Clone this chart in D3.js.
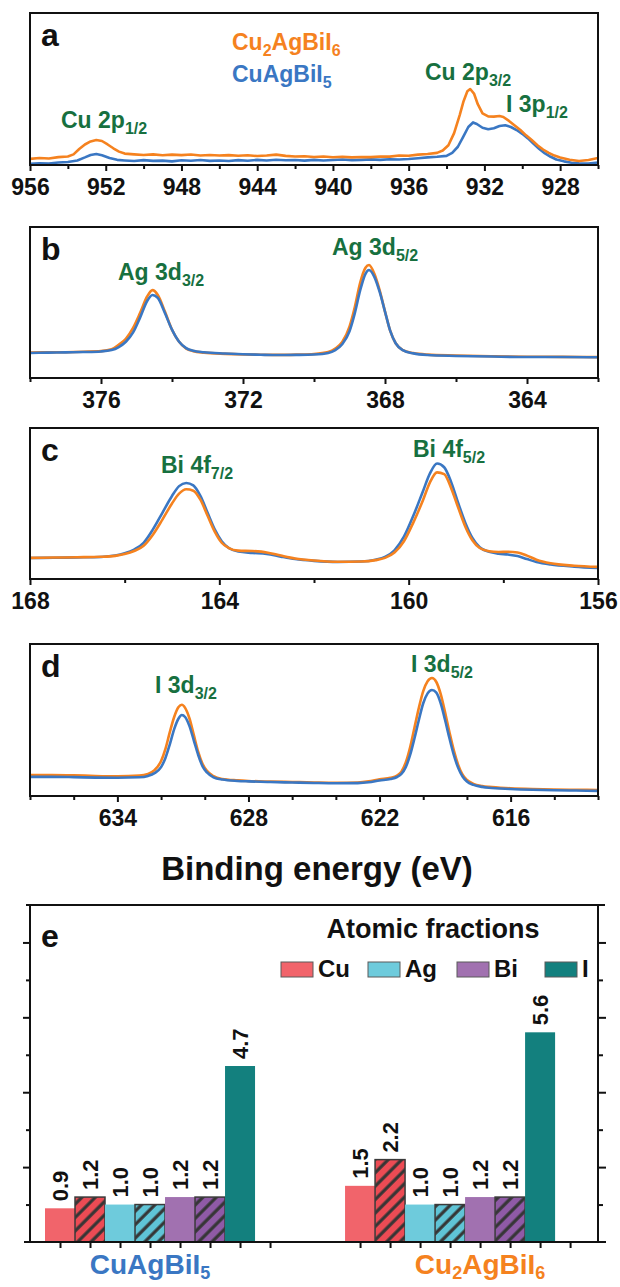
<!DOCTYPE html>
<html>
<head>
<meta charset="utf-8">
<script src="https://cdn.jsdelivr.net/npm/d3@7"></script>
<style>
  body { margin: 0; background: #fff; }
  svg { display: block; font-family: "Liberation Sans", Arial, sans-serif; font-weight: bold; }
</style>
</head>
<body>
<div id="chart"></div>
<script>
// ---- XPS spectra, [binding energy (eV), intensity (a.u., 0-100 of panel height)] ----
const cu2pCu2AgBiI6 = [[956,4.0],[955.5,4.6],[955,4.3],[954.5,5.2],[954,5.6],[953.7,7.0],[953.4,10.5],[953.1,13.5],[952.8,15.5],[952.5,16.4],[952.2,15.8],[951.9,13.5],[951.6,11.0],[951.3,8.8],[951,7.5],[950.5,7.0],[950,6.6],[949.5,7.0],[949,6.4],[948.5,6.8],[948,6.5],[947.5,6.9],[947,6.3],[946.5,6.6],[946,6.2],[945.5,6.5],[945,6.1],[944.5,6.4],[944,5.9],[943.5,6.2],[943,6.8],[942.5,6.0],[942,5.6],[941.5,5.8],[941,5.3],[940.5,5.6],[940,5.1],[939.5,5.4],[939,5.0],[938.5,5.3],[938,5.2],[937.5,5.6],[937,5.5],[936.5,6.2],[936,6.1],[935.5,6.8],[935,7.2],[934.5,8.0],[934.2,9.5],[933.9,13.0],[933.6,21],[933.3,33],[933.1,42],[932.9,48.5],[932.75,50],[932.55,47],[932.35,40],[932.1,34],[931.8,32],[931.5,31.8],[931.2,32.2],[931,31.6],[930.7,29],[930.4,26],[930.1,23],[929.8,19.5],[929.5,16.4],[929.2,13],[928.9,10.2],[928.6,8.0],[928.3,6.2],[928,5.0],[927.5,3.5],[927,2.6],[926.5,3.3],[926,4.6]];
const cu2pCuAgBiI5 = [[956,0.8],[955.5,1.2],[955,1.0],[954.5,1.6],[954,2.0],[953.5,3.0],[953.1,5.0],[952.8,6.6],[952.5,7.2],[952.2,6.4],[951.8,4.6],[951.4,3.4],[951,3.0],[950.5,2.6],[950,3.2],[949.5,2.7],[949,2.9],[948.5,2.4],[948,3.1],[947.5,2.8],[947,3.3],[946.5,2.7],[946,3.0],[945.5,2.6],[945,3.2],[944.5,2.8],[944,3.4],[943.5,3.0],[943,3.5],[942.5,3.1],[942,3.3],[941.5,2.9],[941,3.4],[940.5,3.0],[940,3.3],[939.5,3.6],[939,3.2],[938.5,3.4],[938,3.7],[937.5,3.4],[937,3.8],[936.5,3.6],[936,3.9],[935.5,4.4],[935,5.0],[934.5,5.4],[934,6.0],[933.7,8.0],[933.4,12],[933.1,19],[932.85,25],[932.6,28],[932.4,27],[932.1,24.5],[931.8,23.5],[931.5,24.2],[931.2,25.6],[930.9,26.2],[930.6,25],[930.3,23],[930,20.5],[929.7,17.5],[929.4,14],[929.1,10.5],[928.8,7.6],[928.5,5.4],[928.2,3.6],[927.8,2.4],[927.4,1.5],[927,1.2],[926.5,1.0],[926,1.6]];

const ag3dCu2AgBiI6 = [[378,16.8],[377.5,17.0],[377,17.1],[376.5,17.4],[376,17.8],[375.7,19],[375.5,22],[375.3,26],[375.1,33],[374.9,43],[374.7,54],[374.55,58.2],[374.4,55],[374.2,44],[374.0,32],[373.8,24],[373.6,19.5],[373.4,17.8],[373.1,16.8],[372.5,16.0],[372,15.6],[371.5,15.4],[371,15.3],[370.5,15.5],[370,15.9],[369.6,17.2],[369.4,19.5],[369.2,24],[369.0,34],[368.85,47],[368.7,63],[368.55,73],[368.45,74.8],[368.3,69],[368.15,58],[368.0,44],[367.85,31],[367.7,23],[367.5,18.5],[367.2,16.5],[366.8,15.5],[366,14.9],[365,14.4],[364,14.1],[363,14.0],[362,13.8]];
const ag3dCuAgBiI5 = [[378,16.6],[377.5,16.8],[377,17.0],[376.5,17.2],[376,17.6],[375.7,18.5],[375.5,20.5],[375.3,24],[375.1,30],[374.9,40],[374.7,51],[374.55,55],[374.4,53],[374.2,43],[374.0,32],[373.8,24],[373.6,19.8],[373.4,18],[373.1,17.0],[372.5,16.2],[372,15.7],[371.5,15.4],[371,15.2],[370.5,15.3],[370,15.6],[369.6,16.6],[369.4,18.5],[369.2,22.5],[369.0,31],[368.85,43],[368.7,58],[368.55,69],[368.45,71.5],[368.3,67],[368.15,57],[368.0,44],[367.85,31],[367.7,23],[367.5,18.5],[367.2,16.3],[366.8,15.2],[366,14.6],[365,14.2],[364,13.9],[363,13.9],[362,13.7]];

const bi4fCu2AgBiI6 = [[168,14.0],[167.5,14.2],[167,14.4],[166.5,14.7],[166.2,15.3],[166,16.5],[165.8,18.5],[165.6,22],[165.4,29.5],[165.2,39.5],[165.0,50],[164.85,56.5],[164.7,59.4],[164.55,58.5],[164.4,52.5],[164.25,42],[164.1,31.5],[163.95,24],[163.8,20.5],[163.6,18.8],[163.3,18.5],[163.0,17.6],[162.7,15.5],[162.4,13.6],[162,12.2],[161.5,11.4],[161,11.6],[160.7,12.5],[160.5,14.0],[160.3,17.5],[160.1,25],[159.9,37.5],[159.7,52],[159.55,64],[159.4,70.6],[159.25,69.5],[159.1,60],[158.95,47],[158.8,34.5],[158.65,25.5],[158.5,20.5],[158.3,18.4],[158.1,17.9],[157.9,18.0],[157.7,17.6],[157.5,15.5],[157.3,12.8],[157,10.4],[156.5,8.8],[156,8.0]];
const bi4fCuAgBiI5 = [[168,13.9],[167.5,14.1],[167,14.3],[166.5,14.6],[166.2,15.5],[166,17],[165.8,19.5],[165.6,24],[165.4,33],[165.2,44],[165.0,55],[164.85,61.5],[164.7,63.6],[164.55,62],[164.4,55],[164.25,44],[164.1,33],[163.95,25],[163.8,20.5],[163.6,18.2],[163.3,17.3],[163.0,16.6],[162.7,14.8],[162.4,13.2],[162,12.0],[161.5,11.3],[161,11.6],[160.7,12.8],[160.5,14.6],[160.3,19],[160.1,28],[159.9,42],[159.7,58],[159.55,70],[159.4,76.5],[159.25,74],[159.1,64],[158.95,50],[158.8,37],[158.65,27],[158.5,21],[158.3,18],[158.1,16.8],[157.9,16.2],[157.7,15.2],[157.5,13.2],[157.3,11.3],[157,9.6],[156.5,8.2],[156,7.3]];

const i3dCu2AgBiI6 = [[638,13.8],[637,13.8],[636,13.6],[635,13.2],[634,13.0],[633,13.4],[632.6,14.5],[632.3,17],[632.0,23],[631.8,31],[631.6,42],[631.4,52],[631.2,58.5],[631.05,60],[630.9,58],[630.7,51],[630.5,40],[630.3,29],[630.1,21],[629.9,16.5],[629.6,13],[629.2,11.2],[628.5,10.3],[628,9.9],[627,9.5],[626,9.2],[625,8.9],[624,8.7],[623,8.9],[622.5,9.6],[622,11.0],[621.5,12.0],[621.2,13.5],[621.0,16],[620.8,22],[620.6,32],[620.4,45],[620.2,58],[620.0,69],[619.8,75.5],[619.6,77.6],[619.4,75],[619.2,67],[619.0,55],[618.8,42],[618.6,30],[618.4,20.5],[618.2,14],[618.0,10.5],[617.7,8.0],[617.3,6.6],[617,6.0],[616,5.1],[615,4.6],[614,4.3],[613,4.1],[612,3.9]];
const i3dCuAgBiI5 = [[638,12.6],[637,12.6],[636,12.4],[635,12.1],[634,12.0],[633,12.3],[632.6,13.2],[632.3,15],[632.0,19],[631.8,25],[631.6,34],[631.4,44],[631.2,51],[631.05,53.3],[630.9,52],[630.7,46],[630.5,36.5],[630.3,27],[630.1,19.5],[629.9,15.5],[629.6,12.3],[629.2,10.8],[628.5,9.9],[628,9.6],[627,9.2],[626,8.9],[625,8.6],[624,8.4],[623,8.5],[622.5,9.0],[622,10.2],[621.5,11.2],[621.2,12.5],[621.0,14.5],[620.8,19],[620.6,27],[620.4,38],[620.2,50],[620.0,61],[619.8,67.5],[619.6,69.7],[619.4,68],[619.2,61],[619.0,50],[618.8,38],[618.6,27],[618.4,18.5],[618.2,12.8],[618.0,9.5],[617.7,7.3],[617.3,6.0],[617,5.4],[616,4.6],[615,4.1],[614,3.8],[613,3.6],[612,3.4]];

// tick values for the energy axes
const ticksA = [956, 952, 948, 944, 940, 936, 932, 928];
const minorA = [954, 950, 946, 942, 938, 934, 930, 926];
const ticksB = [376, 372, 368, 364];
const minorB = [378, 374, 370, 366, 362];
const ticksC = [168, 164, 160, 156];
const minorC = [166, 162, 158];
const ticksD = [634, 628, 622, 616];
const minorD = [638, 636, 632, 630, 626, 624, 620, 618, 614, 612];

// ---- atomic fractions (panel e) ----
const compounds = ['CuAgBiI5', 'Cu2AgBiI6'];
const elements = ['Cu', 'Ag', 'Bi', 'I'];
const barElements = ['Cu', 'Cu', 'Ag', 'Ag', 'Bi', 'Bi', 'I'];
const barHatched = [false, true, false, true, false, true, false];
const fractionsCuAgBiI5 = [0.9, 1.2, 1.0, 1.0, 1.2, 1.2, 4.7];
const fractionsCu2AgBiI6 = [1.5, 2.2, 1.0, 1.0, 1.2, 1.2, 5.6];

const ORANGE = '#f5821f';
const BLUE = '#3a77c3';
const GREEN = '#17703f';
const solidColor = { Cu: '#f1646b', Ag: '#6ecbdc', Bi: '#a171b0', I: '#13807e' };
const hatchColor = { Cu: '#ec4b54', Ag: '#5fc4d6', Bi: '#8f5aa6' };

const W = 620, H = 1287;
const L = 30, R = 598;

const svg = d3.select('#chart').append('svg')
    .attr('width', W)
    .attr('height', H);

// text with subscripts: parts = [[text, isSub], ...]
function richText(g, x, y, parts, size, subSize, color, anchor, shiftOverride) {
    const t = g.append('text')
        .attr('x', x)
        .attr('y', y)
        .attr('font-size', size)
        .attr('fill', color)
        .attr('text-anchor', anchor || 'start');
    const shift = shiftOverride || Math.round(subSize * 0.38);
    parts.forEach((p, i) => {
        const ts = t.append('tspan').text(p[0]);
        if (p[1]) ts.attr('font-size', subSize).attr('dy', shift);
        else if (i > 0 && parts[i - 1][1]) ts.attr('dy', -shift);
    });
    return t;
}

const panels = [
    {
        letter: 'a', top: 13, bottom: 165, domain: [956, 926], major: ticksA, minor: minorA,
        curve: d3.curveLinear,
        series: [[cu2pCuAgBiI5, BLUE], [cu2pCu2AgBiI6, ORANGE]],
        labels: [
            { x: 61, y: 128, parts: [['Cu 2p', 0], ['1/2', 1]] },
            { x: 425, y: 80, parts: [['Cu 2p', 0], ['3/2', 1]] },
            { x: 506, y: 112, parts: [['I 3p', 0], ['1/2', 1]] }
        ]
    },
    {
        letter: 'b', top: 227, bottom: 378, domain: [378, 362], major: ticksB, minor: minorB,
        curve: d3.curveMonotoneX,
        series: [[ag3dCu2AgBiI6, ORANGE], [ag3dCuAgBiI5, BLUE]],
        labels: [
            { x: 118, y: 280, parts: [['Ag 3d', 0], ['3/2', 1]] },
            { x: 332, y: 255, parts: [['Ag 3d', 0], ['5/2', 1]] }
        ]
    },
    {
        letter: 'c', top: 428, bottom: 579, domain: [168, 156], major: ticksC, minor: minorC,
        curve: d3.curveMonotoneX,
        series: [[bi4fCuAgBiI5, BLUE], [bi4fCu2AgBiI6, ORANGE]],
        labels: [
            { x: 161, y: 473, parts: [['Bi 4f', 0], ['7/2', 1]] },
            { x: 413, y: 457, parts: [['Bi 4f', 0], ['5/2', 1]] }
        ]
    },
    {
        letter: 'd', top: 644, bottom: 796, domain: [638, 612], major: ticksD, minor: minorD,
        curve: d3.curveMonotoneX,
        series: [[i3dCu2AgBiI6, ORANGE], [i3dCuAgBiI5, BLUE]],
        labels: [
            { x: 155, y: 693, parts: [['I 3d', 0], ['3/2', 1]] },
            { x: 411, y: 672, parts: [['I 3d', 0], ['5/2', 1]] }
        ]
    }
];

panels.forEach((p, i) => {
    const g = svg.append('g');
    const x = d3.scaleLinear().domain(p.domain).range([L, R]);
    const y = d3.scaleLinear().domain([0, 100]).range([p.bottom, p.top]);

    const clipId = 'clip-' + p.letter;
    svg.append('clipPath').attr('id', clipId)
        .append('rect')
        .attr('x', L).attr('y', p.top)
        .attr('width', R - L).attr('height', p.bottom - p.top);

    const line = d3.line()
        .x(d => x(d[0]))
        .y(d => y(d[1]))
        .curve(p.curve);

    p.series.forEach(s => {
        g.append('path')
            .datum(s[0])
            .attr('clip-path', `url(#${clipId})`)
            .attr('fill', 'none')
            .attr('stroke', s[1])
            .attr('stroke-width', 2.6)
            .attr('stroke-linejoin', 'round')
            .attr('d', line);
    });

    g.append('rect')
        .attr('x', L).attr('y', p.top)
        .attr('width', R - L).attr('height', p.bottom - p.top)
        .attr('fill', 'none')
        .attr('stroke', '#111')
        .attr('stroke-width', 2);

    const axMajor = g.append('g')
        .attr('transform', `translate(0,${p.bottom})`)
        .call(d3.axisBottom(x).tickValues(p.major).tickSize(6).tickPadding(8).tickFormat(d3.format('d')));
    const axMinor = g.append('g')
        .attr('transform', `translate(0,${p.bottom})`)
        .call(d3.axisBottom(x).tickValues(p.minor).tickSize(4).tickFormat(''));
    [axMajor, axMinor].forEach(a => {
        a.select('.domain').remove();
        a.selectAll('line').attr('stroke', '#111').attr('stroke-width', 2);
    });
    axMajor.selectAll('text')
        .attr('fill', '#111')
        .attr('font-size', 23)
        .attr('font-family', '"Liberation Sans", Arial, sans-serif')
        .attr('font-weight', 'bold');

    g.append('text')
        .attr('x', 41)
        .attr('y', p.top + 33)
        .attr('font-size', 32)
        .attr('fill', '#111')
        .text(p.letter);

    p.labels.forEach(l => richText(g, l.x, l.y, l.parts, 23, 16, GREEN));
});

// legend of panel a
richText(svg, 232, 50, [['Cu', 0], ['2', 1], ['AgBiI', 0], ['6', 1]], 23, 16, ORANGE);
richText(svg, 232, 82, [['CuAgBiI', 0], ['5', 1]], 23, 16, BLUE);

svg.append('text')
    .attr('x', 317)
    .attr('y', 880)
    .attr('text-anchor', 'middle')
    .attr('font-size', 33)
    .attr('fill', '#111')
    .text('Binding energy (eV)');

// ---- panel e ----
const eTop = 905, eBottom = 1242;
const ex = d3.scaleLinear().domain([0, 18.93]).range([L, R]);
const ey = d3.scaleLinear().domain([0, 9]).range([eBottom, eTop]);
const groupStart = [1, 11];
const groupLabelSlot = [4, 15];
const bw = ex(1) - ex(0);

const defs = svg.append('defs');
Object.keys(hatchColor).forEach(k => {
    const pat = defs.append('pattern')
        .attr('id', 'hatch-' + k)
        .attr('patternUnits', 'userSpaceOnUse')
        .attr('width', 9.5)
        .attr('height', 9.5)
        .attr('patternTransform', 'rotate(45)');
    pat.append('rect').attr('width', 9.5).attr('height', 9.5).attr('fill', hatchColor[k]);
    pat.append('line')
        .attr('x1', 2).attr('x2', 2)
        .attr('y1', 0).attr('y2', 9.5)
        .attr('stroke', '#353535')
        .attr('stroke-width', 3.2);
});

const ge = svg.append('g');
[fractionsCuAgBiI5, fractionsCu2AgBiI6].forEach((vals, gi) => {
    const bars = vals.map((v, i) => ({
        v, el: barElements[i], hatched: barHatched[i], slot: groupStart[gi] + i
    }));
    ge.selectAll(null)
        .data(bars)
        .enter()
        .append('rect')
        .attr('x', d => ex(d.slot) - bw / 2)
        .attr('y', d => ey(d.v))
        .attr('width', bw)
        .attr('height', d => ey(0) - ey(d.v))
        .attr('fill', d => d.hatched ? `url(#hatch-${d.el})` : solidColor[d.el])
        .attr('stroke', d => d.hatched ? '#3a3a3a' : 'none')
        .attr('stroke-width', 1.5);

    ge.selectAll(null)
        .data(bars)
        .enter()
        .append('text')
        .attr('transform', d => `translate(${ex(d.slot) + 8},${ey(d.v) - 7}) rotate(-90)`)
        .attr('font-size', 22)
        .attr('fill', '#111')
        .text(d => d3.format('.1f')(d.v));

    const name = compounds[gi];
    const parts = gi === 0
        ? [['CuAgBiI', 0], ['5', 1]]
        : [['Cu', 0], ['2', 1], ['AgBiI', 0], ['6', 1]];
    richText(ge, ex(groupLabelSlot[gi]), 1274, parts, 28, 18, gi === 0 ? BLUE : ORANGE, 'middle', 5)
        .attr('data-name', name);
});

// frame of panel e
ge.append('line').attr('x1', 26).attr('x2', 605).attr('y1', eTop).attr('y2', eTop);
ge.append('line').attr('x1', 24).attr('x2', 606).attr('y1', eBottom).attr('y2', eBottom);
ge.append('line').attr('x1', L).attr('x2', L).attr('y1', eTop).attr('y2', eBottom);
ge.append('line').attr('x1', R).attr('x2', R).attr('y1', eTop).attr('y2', eBottom);
ge.selectAll('line').attr('stroke', '#111').attr('stroke-width', 2);

const slotTicks = d3.range(8).map(i => groupStart[0] + i).concat(d3.range(8).map(i => groupStart[1] + i));
const eAxes = [
    ge.append('g').attr('transform', `translate(0,${eBottom})`)
        .call(d3.axisBottom(ex).tickValues(slotTicks).tickSize(6).tickFormat('')),
    ge.append('g').attr('transform', `translate(${L},0)`)
        .call(d3.axisLeft(ey).tickValues([2, 4, 6, 8]).tickSize(7).tickFormat('')),
    ge.append('g').attr('transform', `translate(${L},0)`)
        .call(d3.axisLeft(ey).tickValues([1, 3, 5, 7]).tickSize(4).tickFormat('')),
    ge.append('g').attr('transform', `translate(${R},0)`)
        .call(d3.axisRight(ey).tickValues([2, 4, 6, 8]).tickSize(8).tickFormat('')),
    ge.append('g').attr('transform', `translate(${R},0)`)
        .call(d3.axisRight(ey).tickValues([1, 3, 5, 7]).tickSize(5).tickFormat(''))
];
eAxes.forEach(a => {
    a.select('.domain').remove();
    a.selectAll('line').attr('stroke', '#111').attr('stroke-width', 2);
});

ge.append('text')
    .attr('x', 41)
    .attr('y', 947)
    .attr('font-size', 32)
    .attr('fill', '#111')
    .text('e');

ge.append('text')
    .attr('x', 433)
    .attr('y', 938)
    .attr('text-anchor', 'middle')
    .attr('font-size', 27)
    .attr('fill', '#111')
    .text('Atomic fractions');

const legendX = [281, 368, 457, 545];
const lg = ge.selectAll('.legend-item')
    .data(elements)
    .enter()
    .append('g')
    .attr('class', 'legend-item')
    .attr('transform', (d, i) => `translate(${legendX[i]},962)`);
lg.append('rect')
    .attr('width', 32)
    .attr('height', 15)
    .attr('fill', d => solidColor[d])
    .attr('stroke', '#5a5a5a')
    .attr('stroke-width', 1);
lg.append('text')
    .attr('x', 37)
    .attr('y', 15)
    .attr('font-size', 24)
    .attr('fill', '#111')
    .text(d => d);
</script>
</body>
</html>
